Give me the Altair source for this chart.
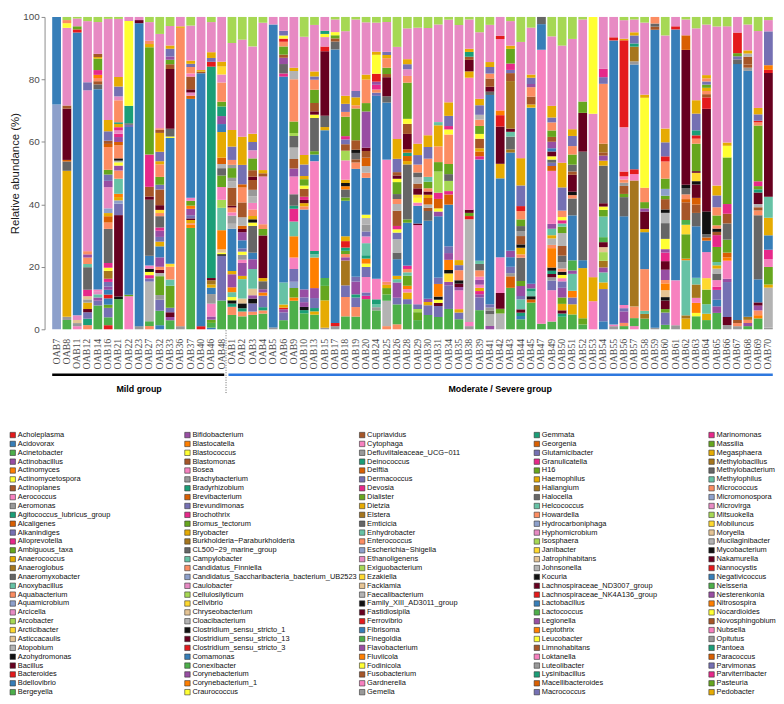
import altair as alt
import pandas as pd

samples_mild = ["OAB7", "OAB8", "OAB11", "OAB12", "OAB14", "OAB16", "OAB21", "OAB22", "OAB23",
                "OAB27", "OAB32", "OAB33", "OAB36", "OAB37", "OAB40", "OAB46", "OAB48"]
samples_mod = ["OAB1", "OAB2", "OAB3", "OAB4", "OAB5", "OAB6", "OAB9", "OAB10", "OAB13", "OAB15",
               "OAB17", "OAB18", "OAB19", "OAB20", "OAB24", "OAB25", "OAB26", "OAB28", "OAB29",
               "OAB30", "OAB31", "OAB34", "OAB35", "OAB38", "OAB39", "OAB41", "OAB42", "OAB43",
               "OAB44", "OAB45", "OAB47", "OAB49", "OAB50", "OAB51", "OAB52", "OAB53", "OAB54",
               "OAB55", "OAB56", "OAB57", "OAB58", "OAB59", "OAB60", "OAB61", "OAB62", "OAB63",
               "OAB64", "OAB65", "OAB66", "OAB67", "OAB68", "OAB69", "OAB70"]
samples = samples_mild + samples_mod

legend_genera = [
    "Acholeplasma", "Acidovorax", "Acinetobacter", "Actinobacillus", "Actinomyces", "Actinomycetospora",
    "Actinoplanes", "Aerococcus", "Aeromonas", "Agitococcus_lubricus_group", "Alcaligenes", "Alkanindiges",
    "Alloprevotella", "Ambiguous_taxa", "Anaerococcus", "Anaeroglobus", "Anaeromyxobacter", "Anoxybacillus",
    "Aquabacterium", "Aquamicrobium", "Arcicella", "Arcobacter", "Arcticibacter", "Asticcacaulis",
    "Atopobium", "Azohydromonas", "Bacillus", "Bacteroides", "Bdellovibrio", "Bergeyella",
    "Bifidobacterium", "Blastocatella", "Blastococcus", "Blastomonas", "Bosea", "Brachybacterium",
    "Bradyrhizobium", "Brevibacterium", "Brevundimonas", "Brochothrix", "Bromus_tectorum", "Bryobacter",
    "Burkholderia\u2212Paraburkholderia", "CL500\u221229_marine_group", "Campylobacter", "Candidatus_Finniella",
    "Candidatus_Saccharibacteria_bacterium_UB2523", "Caulobacter", "Cellulosilyticum", "Cellvibrio",
    "Chryseobacterium", "Cloacibacterium", "Clostridium_sensu_stricto_1", "Clostridium_sensu_stricto_13",
    "Clostridium_sensu_stricto_3", "Comamonas", "Conexibacter", "Corynebacterium", "Corynebacterium_1",
    "Craurococcus",
    "Cupriavidus", "Cytophaga", "Defluviitaleaceae_UCG\u2212011", "Deinococcus", "Delftia", "Dermacoccus",
    "Devosia", "Dialister", "Dietzia", "Elstera", "Emticicia", "Enhydrobacter", "Enterococcus",
    "Escherichia\u2212Shigella", "Ethanoligenens", "Exiguobacterium", "Ezakiella", "Facklamia",
    "Faecalibacterium", "Family_XIII_AD3011_group", "Fastidiosipila", "Ferrovibrio", "Fibrisoma",
    "Finegoldia", "Flavobacterium", "Fluviicola", "Fodinicola", "Fusobacterium", "Gardnerella", "Gemella",
    "Gemmata", "Georgenia", "Glutamicibacter", "Granulicatella", "H16", "Haemophilus", "Haliangium",
    "Halocella", "Helcococcus", "Howardella", "Hydrocarboniphaga", "Hyphomicrobium", "Isosphaera",
    "Janibacter", "Jatrophihabitans", "Johnsonella", "Kocuria", "Lachnospiraceae_ND3007_group",
    "Lachnospiraceae_NK4A136_group", "Lactobacillus", "Lactococcus", "Legionella", "Leptothrix",
    "Leucobacter", "Limnohabitans", "Loktanella", "Luteolibacter", "Lysinibacillus", "Macellibacteroides",
    "Macrococcus",
    "Marinomonas", "Massilia", "Megasphaera", "Methylobacillus", "Methylobacterium", "Methylophilus",
    "Micrococcus", "Micromonospora", "Microvirga", "Mitsuokella", "Mobiluncus", "Moryella",
    "Mucilaginibacter", "Mycobacterium", "Nakamurella", "Nannocystis", "Negativicoccus", "Neisseria",
    "Nesterenkonia", "Nitrosospira", "Nocardioides", "Novosphingobium", "Nubsella", "Opitutus", "Pantoea",
    "Paracoccus", "Parvimonas", "Parviterribacter", "Pasteuria", "Pedobacter",
]

palette = ["#E41A1C", "#377EB8", "#4DAF4A", "#984EA3", "#FF7F00", "#FFFF33", "#A65628", "#F781BF",
           "#999999", "#1B9E77", "#D95F02", "#7570B3", "#E7298A", "#66A61E", "#E6AB02", "#A6761D",
           "#666666", "#66C2A5", "#FC8D62", "#8DA0CB", "#E78AC3", "#A6D854", "#FFD92F", "#E5C494",
           "#B3B3B3", "#111111", "#67001F"]
genus_colors = [palette[i % len(palette)] for i in range(len(legend_genera))]

# one-letter codes for the genera seen in the bars
code_genus = {
    "B": "Lactobacillus", "P": "Microvirga", "p": "Gardnerella", "L": "Exiguobacterium",
    "G": "Acinetobacter", "O": "Anaerococcus", "Y": "Leucobacter", "M": "Fastidiosipila",
    "S": "Enterococcus", "E": "Pantoea", "R": "Bacteroides", "V": "Dialister", "A": "Parvimonas",
    "D": "Methylobacterium", "g": "Atopobium", "W": "Cupriavidus", "w": "Anaeroglobus",
    "T": "Enhydrobacter", "N": "Actinomyces", "n": "Delftia", "U": "Bifidobacterium",
    "m": "Granulicatella", "Z": "Mobiluncus", "K": "Kocuria", "I": "Escherichia\u2212Shigella",
    "H": "Gemella", "t": "Facklamia",
}

# composition of each sample, bottom to top (code + relative abundance %)
composition = {
    "OAB7": "I72 B28",
    "OAB8": "G3 H1 O47 D3 n0.5 M16.5 W1 P25 Y1.5 S1 L1",
    "OAB11": "p1 H1 t1 P1.5 B91 R1 V1 P2.5 L0.5",
    "OAB12": "S1.3 E2 A2 M1 O2 H1 t1 m2 D7 T1 S2 U1 S1 P50 A2.5 P19 L1.3",
    "OAB14": "G7.5 A1.5 U1 T1 P1 p0.5 B63 D1.5 W1 S1 N1 m1.5 V3.6 O0.5 W1 P10 L1.6",
    "OAB16": "R1.3 G2.5 A3 V1 B2 R1.2 B1.5 U1 A1.5 m1 w2.5 Y1 m1.5 D10.8 S2 n2 O1 I1.5 P6.7 U2 A2 V1.5 S7.2 n1 W1 A3 O3.6 P32 L0.6",
    "OAB21": "G9.2 K0.8 M24.8 A3.5 I1 O1 N1 T4.6 S2.5 U1.5 Y1 g0.5 K0.7 S4 n1 U1.5 m1 P1 m1 O1 E0.5 S6.7 P1.2 A3 O2.9 P17.7 L0.6",
    "OAB22": "p10.6 V0.5 B53.8 A0.7 D0.5 E5.6 Y27.2 P1.3",
    "OAB23": "H1 B97 M1 P1",
    "OAB27": "S1 G1.5 g12.3 A1 m1 Y1 K1 p1 B3 D17.4 M1 W3 m10 V33.3 O1 S1 P5.8 L1.6",
    "OAB32": "B1.3 G4.6 A3.5 H1.5 V6 g1 M1 S1 U3 B3.5 O1.5 A1.5 U2 m1 D3.6 S1 Z1 M1.5 W5 A1.5 V2.5 S4 O1 A3 O6 W1 S0.5 P30 L5.4",
    "OAB33": "G2.9 U1 M1.5 A1.5 V7 T2 S4 Z1 B40 Y0.5 D2.5 M19 W1.5 V1.5 U1 A2.5 O1 P6.2 L2.9",
    "OAB36": "H1 S95.5 O0.5 P3",
    "OAB37": "G31.8 N1 S0.5 O1 M0.5 A1 U2 N1 V1.5 p1 B31 n1 P1 M1 W4 p1 S2 A1 O1 P11 L2.7",
    "OAB40": "R1 B81 W0.5 O0.5 P17",
    "OAB46": "B0.5 G1.5 V1 U1 p4 H3 B2 O1 w1.3 M0.7 E66 R1.5 A1.2 O1.8 P9.4 L1.6",
    "OAB48": "G9 A14 K0.5 Y0.5 t1 N6 T7 L2.5 p4 V3.6 D2.3 g1.3 n2 O8 B2.5 U2.5 E3 V1.5 S6 P2.5 Z2.5 O1.5 P14",
    "OAB1": "G4.4 S2.5 E1 K1 Y1 T1.5 N1.5 U4 O1 B13 g1.5 H2.5 p1 S1.5 M0.5 W5.6 g2 H1 V3 H1 S1.5 A4.1 O5.1 P26.7 L8",
    "OAB2": "G4 S1.5 E1 K1.5 t1.5 T6 O1 U4 p1 H1.5 Y1 A1 B2.5 U2.5 M1 n1 g2.6 W4.6 S4.6 n1 A6 O8.7 P30 L7",
    "OAB3": "G4.4 S1 A2.5 K1.5 U1 t2 T6 U3 B2 D8.2 Y1 K1 O1 S2 p2 g2 H2 W3 M1 W2 V3.6 P2.5 A2.5 O2.5 P26.7 L9",
    "OAB4": "G4.9 S1 E1 A3.6 N1 U1 D2.5 O1 M13.3 V2 S1.5 P14.9 W1 O1 P46 L1.8",
    "OAB5": "H0.6 B97 P2.4",
    "OAB6": "G2.9 A2.5 U1 R0.5 O1 T7 B65.6 m1 D3 U2 W1 V2.6 S1.5 R1 Y1 A1.5 P4.4",
    "OAB9": "G9 N1 V3 I2 A4 p3.6 N6.7 T4.6 m4 E1 D3.6 p5.6 U2.5 W3 g3.6 D3.6 L1 V3.6 S13.3 g2.6 O1 P16",
    "OAB10": "G5 E1 K1 U1.5 A1.5 U2.5 B25 S1 O1 M1 m1 W2.5 Y1 V2 O1 A3.6 O3 P37 L6.2",
    "OAB13": "G4.4 O1 E1 A3 U3 N9.2 T1 E1 p27 B2 V1 D10 Y1 M1 W2.5 V4 S3 A1 O1.5 P14 L2.4",
    "OAB15": "H0.5 O8.7 V4.6 G2.5 B47 O1 D3.6 M20.5 R1.5 P3 Y1 E1 P4.4",
    "OAB17": "H1 R1 B86.7 D2.5 W1 V1 Y1 P4 L0.8",
    "OAB18": "G4 S6 A3.6 w7.7 U1 S1 V1 E1 R2 O1.5 B11 V1 D2.5 N1 K1 O1 p6 L3 W2 A1.5 m1 V6 S1.5 A2.5 O2.5 P20 L4.4",
    "OAB19": "G4 S3 A3 E1 U4 A1.5 B34 S2 W1 D2 K1 W3 V10 S1 O2.5 A2 P22.5 L0.8",
    "OAB20": "G9 m1 A1 p4.6 A3 Y1 N1.5 E1 T3.6 p2 A1.5 H2 g2 Y1 B11 S1.5 g2 n2.5 W2 M1 U10.8 V2.5 S7 O1.5 P15.6 L1.6",
    "OAB24": "G6 H1 T1 E1.5 p6.5 B58 A1 S1 m1.5 U1 R2.5 Y6 O1 P9.2 L1.8",
    "OAB25": "S1 g8 G2 V2 O1 S1 p38.5 B18 D2 M6 W1 V2 S3 O1 A1 P9.4 L1.6",
    "OAB26": "S1.5 G6 A2 U4.6 T1 O1 B5 D2 g4 A2 Y1 m1 W4.6 g2 S1.5 D1.5 V3.6 Y1 M1 W1 A4 O6 P27.7 L9",
    "OAB28": "G7.5 A1.5 O2 p1 N1 V3 T1 S1 m1 B12.8 V1 D16.4 O1 n1.5 E1 n1 M4.6 W3 Y1.5 V10.8 S2 P2 A1.5 O1.5 P9.2 L3.4",
    "OAB29": "G2.9 V2.5 L1 A1.5 p25 M0.5 B5.6 p1 Y1.5 Z1 M2 W1.5 g2 D1.5 S2.5 A3 O3.6 P36.6 L3.4",
    "OAB30": "G4.4 A3 O1 U1 B24 D3 W1 g1 n2 O1 M1 S1 V2 T1.5 S5.6 A3.6 O3.6 P33 L3.4",
    "OAB31": "G3.9 A3.5 M1 Y1 K1 N4 A2 B19.5 U1.5 Y1 n3 m2 L6.7 V3 S5 O6.7 T1 P31 L2.4",
    "OAB34": "G6 A7 U1 Z2.5 K1 N3 U2 A2 B12.3 n3 m1 L3 D2 V3 S8.7 Y1.5 m1 A3 O4 P24.4 L0.8",
    "OAB35": "G3 A2 O1 p5.6 U1 M1 K1 S3 A1.5 O1.5 P70 L2.4",
    "OAB38": "H1 p1.3 g32.3 R1 V1 M1 p41.5 O2 M3.6 W1 E1.5 O1 P9.2 L0.8",
    "OAB39": "G6 A4 U1 m1 O1 p1 U1.5 p1 S2 D2 T1 B31.8 m1 n1.5 O1 W3 Y1.5 V2.5 S2 g1.5 A3 O2 P20.9 L4.8",
    "OAB41": "U1 g3.6 D1 H1 A1 B63.6 D1 M1.5 W2.5 S1.5 A2 O1.5 P11.3 L2.4",
    "OAB42": "g5 V1.5 M5 p11.3 B25 O4.6 M11.8 R3.6 N1.5 p22.6 R1 P6",
    "OAB43": "G13 n3.6 H1 A2 B3 U2 B30.8 w1 D4 T1.5 M1 w14.9 W2.5 A1 m2 V4.6 O1 P7.7 L1.3",
    "OAB44": "G3 B1 E1 M1 T3 A1 U3 V1.5 D7 S1 O2 K1 W2.5 H1.5 D1.5 V2 S2.5 R1.5 A6.2 O8.2 P34.9 L7.5",
    "OAB45": "G8.5 n1 K1 T1.5 E1 U1.5 B55.9 O1 W2.5 S3 U1 A2 O1 P14.9 L3.4",
    "OAB47": "G1.8 p87.7 B8.2 D2.3",
    "OAB49": "G2.4 p9.7 A3 H1 M1 E1 K1 N6 S1 g2 O1 T2 U1.5 p16.4 n1.5 A1 D1 Y1 M1.5 B1 U2 W1.5 V2 S2.5 A1.5 O3.6 P21.5 L6",
    "OAB50": "G3.9 E1 M1 O2 V2 U3 A2 p1 Y1 K1 S1 H2 D2 W3 g4 V2 T1 m1 Y1 S2 A7.2 O7.7 P36.4 L8.9",
    "OAB51": "G4.4 O3 A2 N2 T5 U1 G3 B13.3 D5 S1 K1 M5 W1 D2 V3 S2.5 A3 O2 P26.7 L6.5",
    "OAB52": "G1.5 V2 O15.9 B2.5 D34.4 M12.3 V3.6 P26 L0.8",
    "OAB53": "p9 O7.7 P52.3 Y31",
    "OAB54": "B2.4 A9.7 O2 T3 U1.5 w2 L2.6 t1.5 M1.5 G1.5 T6.2 V2 Y1 M1 D11.3 O1.5 U1.5 W1 w2.6 S18 A2 m2.5 P15.6",
    "OAB55": "H1 p0.5 B90.8 R1 P6.5",
    "OAB56": "G1 S1 U3.6 A1 p1 B27.7 D6 V1 W2.5 H1 S1 p1 R1.5 P13.8 R27.2 O0.5 P5.8 L1",
    "OAB57": "p1 G2.5 S3.6 w39.5 p2 R1.5 B32.8 H1 w4.6 E1 A2.5 O1 P4 L0.8",
    "OAB58": "G3.4 w1.5 T1 S13.3 B11.8 O1 M5.6 U1 V2 S4.6 Y28.7 O1 P23 L1.8",
    "OAB59": "H0.5 B95.4 W1 D1 S2.1",
    "OAB60": "G1.3 A3.6 V1 M2.5 K1 t2 N2 S1 U3 M2.5 m2.5 U1 Y3 D4.6 g3 K1 W3 V1 I2 V3 S5 R1.5 A4.1 O4 P27.2 L5.4",
    "OAB61": "H1.3 p14.4 B80.5 R1 P3",
    "OAB62": "O3.4 w1 T17.4 N0.5 V7.7 Z3 G1.5 W5.6 n1 S1.5 D2 K1 M42.6 n4.6 P5 L0.8",
    "OAB63": "G3.9 Y1 N3 p1.5 w4 T2 B15.4 D4 W2.5 n2 M4 K1 Z2.5 M0.5 V8.2 S1.5 R1 E1.5 A5 O4 P21.5 L3.4",
    "OAB64": "G2.9 O2 T3 V4.6 Z3.6 p8.2 B3.6 n1 D1 K7.2 M32.3 R3.6 W1 S1 O1 V1 A1 S1 O1 P15.9 L2.4",
    "OAB65": "G5 U2 B2 A3 m1 p2 D2 g1.5 O1 T1 V4.6 m3.6 W1 K1 S1 V3 S2.5 A3.6 O3 P48.5 L2.9",
    "OAB66": "H1.3 M2.5 A10.8 U1 p5.6 N1 n1.5 V4 D5 W3 m3 V14.4 Y3.6 O1 P35.9 L2.9",
    "OAB67": "H1 S1 W1 B82 D1.5 A1 V1 R6.6 P5",
    "OAB68": "G1 U1 S1 w1 B78 H1 W1 W2.5 g1 O1 P8.2 L2.4",
    "OAB69": "G3.4 N1 S1.5 U1.5 M1 B7.2 D20 S1.5 W1 g1 M3.6 E1 V1 m1.5 V17.4 S1 R0.5 A2 O2 P24 L4.4",
    "OAB70": "H0.5 g12.8 O1 V5.6 p2.5 m3 B4.6 O5.6 T6.7 M39.5 R1 N1.5 A10.8 P3.6 L1",
}

group_labels = ["Mild group", "Moderate / Severe group"]
group_label_at = ["OAB23", "OAB42"]

rows = []
for s in samples:
    toks = composition[s].split()
    vals = [(code_genus[t[0]], float(t[1:])) for t in toks]
    tot = sum(v for _, v in vals)
    for k, (g, v) in enumerate(vals):
        rows.append({"sample": s, "genus": g, "abundance": v * 100.0 / tot, "layer": k})
df = pd.DataFrame(rows)

H = 316
W = 738
xscale = alt.Scale(domain=samples, paddingInner=0.15, paddingOuter=0.43, align=0.86)
color_scale = alt.Scale(domain=legend_genera, range=genus_colors)

bars = alt.Chart(df).mark_bar(strokeWidth=0).encode(
    x=alt.X("sample:N", scale=xscale, title=None,
            axis=alt.Axis(labelAngle=-90, labelFont="Liberation Serif", labelFontSize=10,
                          labelColor="#4d4d4d", domain=False, ticks=False, labelPadding=9,
                          labelOverlap=False)),
    y=alt.Y("abundance:Q", stack="zero", scale=alt.Scale(domain=[0, 100], nice=False),
            axis=alt.Axis(values=[0, 20, 40, 60, 80, 100], grid=False, domainColor="#8c8c8c",
                          tickColor="#8c8c8c", tickSize=3.5, labelFont="Liberation Sans",
                          labelFontSize=10, labelColor="#4d4d4d", labelPadding=2,
                          title="Relative abundance (%)", titleFont="Liberation Sans",
                          titleFontSize=11.5, titleFontWeight="normal", titleColor="#1a1a1a",
                          titlePadding=2)),
    color=alt.Color("genus:N", scale=color_scale, legend=None),
    order=alt.Order("layer:Q", sort="ascending"),
)

mild_line = alt.Chart(pd.DataFrame({"a": [samples_mild[0]], "b": [samples_mild[-1]]})).mark_rule(
    color="black", strokeWidth=2.5).encode(
    x=alt.X("a:N", scale=xscale, bandPosition=0, title=None),
    x2=alt.X2("b:N", bandPosition=0.8),
    y=alt.value(H + 46),
)
mod_line = alt.Chart(pd.DataFrame({"a": [samples_mod[0]], "b": [samples_mod[-1]]})).mark_rule(
    color="#2E78DE", strokeWidth=2.5).encode(
    x=alt.X("a:N", scale=xscale, bandPosition=0.1, title=None),
    x2=alt.X2("b:N", bandPosition=1),
    y=alt.value(H + 46),
)
divider = alt.Chart(pd.DataFrame({"a": [samples_mild[-1]]})).mark_rule(
    color="#666666", strokeWidth=1, strokeDash=[1, 1.5]).encode(
    x=alt.X("a:N", scale=xscale, bandPosition=1, title=None),
    y=alt.value(H + 1),
    y2=alt.value(H + 65),
)
group_text = alt.Chart(pd.DataFrame({"a": group_label_at, "label": group_labels})).mark_text(
    font="Liberation Sans", fontSize=9, fontWeight="bold", color="black").encode(
    x=alt.X("a:N", scale=xscale, title=None),
    y=alt.value(H + 60),
    text="label:N",
)

top = alt.layer(bars, mild_line, mod_line, divider, group_text).properties(width=W, height=H)

leg_cols = [i // 30 for i in range(len(legend_genera))]
leg_rows = [i % 30 for i in range(len(legend_genera))]
sq_df = pd.DataFrame({"genus": legend_genera, "col": leg_cols, "row": leg_rows})
txt_df = pd.DataFrame({"name": legend_genera, "col": leg_cols, "row": leg_rows})

leg_x = alt.X("col:Q", scale=alt.Scale(domain=[0, 4], range=[-32.2, -32.2 + 4 * 176.75], nice=False, zero=False), axis=None)
leg_y = alt.Y("row:Q", scale=alt.Scale(domain=[0, 29], range=[5, 5 + 29 * 8.97], nice=False, zero=False), axis=None)
leg_txt = alt.Chart(txt_df).mark_text(align="left", baseline="middle", dx=5, fontSize=7.5,
                                      font="Liberation Sans", fill="#111111").encode(
    x=leg_x, y=leg_y, text="name:N", color=alt.value("#111111"))
leg_sq = alt.Chart(sq_df).mark_square(size=30, opacity=1, stroke="#333333", strokeWidth=0.6).encode(
    x=leg_x, y=leg_y,
    color=alt.Color("genus:N", scale=color_scale, legend=None))
legend_chart = alt.layer(leg_txt, leg_sq).properties(width=680, height=268)

chart = alt.vconcat(top, legend_chart, spacing=36).properties(
    padding={"left": 0, "top": 0, "right": 0, "bottom": 0}
).configure_view(stroke=None).configure_text(color="#111111", fill="#111111")

chart.save("out.html", embed_options={"renderer": "svg", "actions": False})
